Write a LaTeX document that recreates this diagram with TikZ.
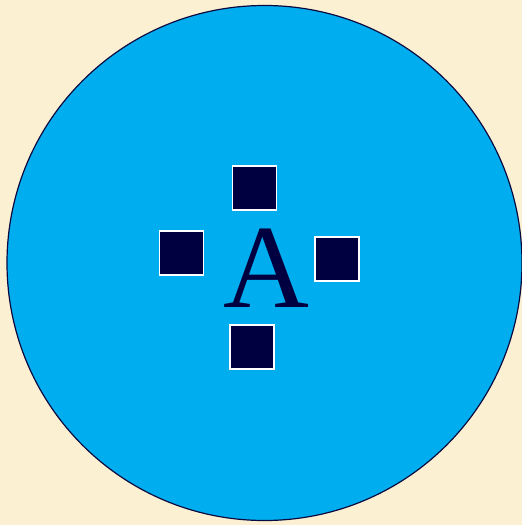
\documentclass[tikz,border=0pt]{standalone}
\usepackage{fontspec}
\setmainfont{Liberation Serif}
\definecolor{bg}{HTML}{FCF0D2}
\definecolor{disc}{HTML}{00AEEF}
\definecolor{navy}{HTML}{000040}
\definecolor{rim}{HTML}{0A0A40}
\begin{document}
\begin{tikzpicture}[x=1pt,y=-1pt,
  sq/.style={draw=white,line width=1.5pt,fill=navy,minimum size=44pt,inner sep=0pt,shape=rectangle}]
\useasboundingbox (0,0) rectangle (522,525);
\fill[bg] (0,0) rectangle (522,525);
\node[circle,draw=rim,fill=disc,line width=1.2pt,minimum size=515pt,inner sep=0pt] (disc) at (264.5,263) {};
\node[sq] (top) at (254.5,188) {};
\node[sq] (left) at (181.5,253) {};
\node[sq] (right) at (337,259) {};
\node[sq] (bottom) at (252,347) {};
\node[anchor=base,inner sep=0pt,text=navy,font=\fontsize{119}{119}\selectfont] (A) at (266,307) {A};
\end{tikzpicture}
\end{document}
